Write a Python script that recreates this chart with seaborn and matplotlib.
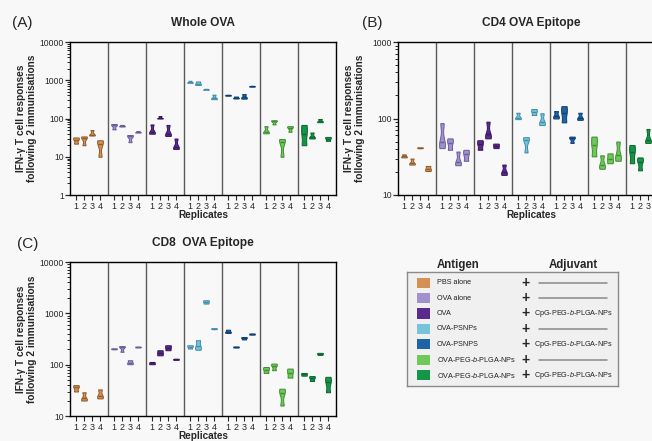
import numpy as np
import pandas as pd
import matplotlib
matplotlib.use("Agg")
import matplotlib.pyplot as plt
import matplotlib.ticker as mticker
from matplotlib.patches import Rectangle
import seaborn as sns

sns.set_style("ticks")
plt.rcParams["font.family"] = ["Liberation Sans", "DejaVu Sans"]
plt.rcParams["mathtext.fontset"] = "custom"
plt.rcParams["mathtext.it"] = "Liberation Sans:italic"
plt.rcParams["mathtext.rm"] = "Liberation Sans"

# ── data ─────────────────────────────────────────────────────────────────────
GROUPS = ["PBS alone", "OVA alone", "OVA", "OVA-PSNPs", "OVA-PSNPS",
          "OVA-PEG-$\\it{b}$-PLGA-NPs", "OVA-PEG-$\\it{b}$-PLGA-NPs"]
ADJUVANT = [None, None, "CpG-PEG-$\\it{b}$-PLGA-NPs", None,
            "CpG-PEG-$\\it{b}$-PLGA-NPs", None, "CpG-PEG-$\\it{b}$-PLGA-NPs"]
FILLS = ["#D59155", "#A091CD", "#5A2A8C", "#78C3DC", "#1E64A5", "#6EC85A", "#149646"]
EDGES = ["#8E5A2C", "#6A5C99", "#3A1560", "#3F8CA8", "#0E3F70", "#3E8E2E", "#0B6630"]
REPLICATES = ["1", "2", "3", "4"]

# triplicate wells per replicate (4 replicates per group, 7 groups)
whole_ova = [
    [[22, 28, 32], [20, 31, 34], [36, 38, 50], [10, 22, 27]],
    [[52, 66, 72], [62, 64, 68], [24, 34, 37], [43, 44, 47]],
    [[40, 44, 70], [100, 102, 116], [35, 40, 68], [16, 18, 30]],
    [[860, 880, 970], [750, 820, 930], [565, 575, 590], [320, 340, 420]],
    [[395, 405, 415], [335, 350, 375], [330, 360, 435], [680, 695, 710]],
    [[41, 45, 63], [70, 85, 90], [10, 25, 29], [45, 58, 63]],
    [[20, 40, 68], [30, 33, 43], [80, 85, 97], [26, 30, 33]],
]
cd4_epitope = [
    [[31, 32, 34], [25, 26, 30], [41, 41.5, 42], [20.6, 22, 24]],
    [[41, 50, 87], [39, 48, 55], [24.5, 27, 37], [28, 34, 39]],
    [[39, 46, 52], [55, 62, 91], [41, 44, 47], [18.3, 20, 25]],
    [[98, 103, 119], [36, 52, 57], [111, 123, 133], [82, 90, 117]],
    [[100, 108, 125], [89, 118, 145], [48, 55, 58], [96, 102, 119]],
    [[32, 45, 58], [22, 25, 33], [26, 30, 35], [28, 33, 50]],
    [[26, 36, 45], [21, 27, 31], [48, 52, 73], [40, 50, 60]],
]
cd8_epitope = [
    [[30, 36, 40], [20, 22, 29], [], [22, 25, 33]],
    [[200, 204, 208], [178, 220, 230], [102, 110, 122], [217, 221, 225]],
    [[102, 107, 113], [152, 170, 191], [191, 215, 239], [124, 127, 130]],
    [[206, 225, 239], [195, 230, 300], [1550, 1680, 1800], [495, 505, 515]],
    [[415, 440, 480], [216, 221, 226], [310, 330, 345], [385, 395, 405]],
    [[69, 80, 90], [78, 95, 105], [16, 28, 34], [56, 70, 84]],
    [[61, 65, 69], [48, 55, 60], [155, 163, 170], [29, 45, 58]],
]

BG = "#f8f8f8"
GROUP_W = 4.75
W, H = 652, 441


def box(left, top, width, height):
    return [left / W, 1 - (top + height) / H, width / W, height / H]


def draw_panel(ax, data, ylim, title):
    ax.set_facecolor(BG)
    for g, reps in enumerate(data):
        rows = [(g * GROUP_W + r, v) for r, vals in enumerate(reps) for v in vals]
        sub = pd.DataFrame(rows, columns=["pos", "value"])
        sns.violinplot(data=sub, x="pos", y="value", native_scale=True,
                       log_scale=(False, True), ax=ax, color=FILLS[g],
                       linecolor=EDGES[g], linewidth=0.7, saturation=1,
                       width=0.72, cut=0, bw_adjust=0.6, density_norm="width",
                       inner=None)
        med = sub.groupby("pos")["value"].median()
        ax.hlines(med.values, med.index - 0.3, med.index + 0.3,
                  color=EDGES[g], lw=1.0, zorder=5)

    for g in range(1, 7):
        ax.axvline(g * GROUP_W - 0.75, color="#5a5a5a", lw=1.0, zorder=1)

    ax.set_yscale("log")
    ax.set_ylim(*ylim)
    ax.set_xlim(-0.75, 7 * GROUP_W - 0.75)
    ax.set_xticks([g * GROUP_W + r for g in range(7) for r in range(4)])
    ax.set_xticklabels(REPLICATES * 7)
    ax.yaxis.set_major_locator(mticker.LogLocator(base=10))
    ax.yaxis.set_minor_locator(mticker.LogLocator(base=10, subs=np.arange(2, 10)))
    ax.yaxis.set_major_formatter(mticker.FuncFormatter(lambda v, _: f"{v:g}"))
    ax.yaxis.set_minor_formatter(mticker.NullFormatter())
    ax.tick_params(axis="x", labelsize=6.5, length=3.5, width=0.8, pad=1.5)
    ax.tick_params(axis="y", which="major", labelsize=6.2, length=3.5, width=0.9, pad=1)
    ax.tick_params(axis="y", which="minor", length=2, width=0.7)
    for s in ax.spines.values():
        s.set_color("black")
        s.set_linewidth(1.0)

    ax.set_xlabel("Replicates", fontsize=7.2, fontweight="bold")
    ax.xaxis.set_label_coords(0.5, -0.1)
    ax.set_ylabel("IFN-γ T cell responses\nfollowing 2 immunisations",
                  fontsize=7.3, fontweight="bold", linespacing=1.1)
    ax.yaxis.set_label_coords(-0.125, 0.5)

    pos = ax.get_position()
    fig.text(pos.x0 + pos.width / 2, pos.y1 + 19 / H, title, ha="center",
             va="center", fontsize=8.6, fontweight="bold")
    return ax


fig = plt.figure(figsize=(6.52, 4.41), dpi=100, facecolor=BG)

axA = fig.add_axes(box(70, 42, 266, 153))
draw_panel(axA, whole_ova, (1, 10000), "Whole OVA")
axB = fig.add_axes(box(398, 42, 266, 153))
draw_panel(axB, cd4_epitope, (10, 1000), "CD4 OVA Epitope")
axC = fig.add_axes(box(70, 262, 266, 154))
draw_panel(axC, cd8_epitope, (10, 10000), "CD8  OVA Epitope")

# the last replicate of panel B falls outside the canvas, as in the original
axB.get_xticklabels()[-1].set_visible(False)

for tag, x, y in [("(A)", 12, 23), ("(B)", 362, 23), ("(C)", 17, 244)]:
    fig.text(x / W, 1 - y / H, tag, ha="left", va="center", fontsize=11)

# ── legend panel ─────────────────────────────────────────────────────────────
lax = fig.add_axes(box(407, 272, 211, 114))
lax.set_facecolor("#f0f0f0")
lax.set_xlim(0, 1)
lax.set_ylim(0, 1)
lax.set_xticks([])
lax.set_yticks([])
for s in lax.spines.values():
    s.set_color("#8a8a8a")
    s.set_linewidth(1.0)

for i, (name, adj) in enumerate(zip(GROUPS, ADJUVANT)):
    yc = 1 - (10.7 + i * 15.4) / 114
    lax.add_patch(Rectangle((0.047, yc - 0.044), 0.062, 0.088,
                            facecolor=FILLS[i], edgecolor="none"))
    lax.text(0.142, yc, name, fontsize=5.2, va="center", ha="left", color="#222")
    lax.text(0.56, yc, "+", fontsize=10, fontweight="bold", va="center", ha="center")
    if adj is None:
        lax.plot([0.626, 0.948], [yc, yc], color="#8a8a8a", lw=1.1)
    else:
        lax.text(0.60, yc, adj, fontsize=5.2, va="center", ha="left", color="#222")

fig.text(458 / W, 1 - 265 / H, "Antigen", ha="center", va="center",
         fontsize=8.3, fontweight="bold")
fig.text(573 / W, 1 - 265 / H, "Adjuvant", ha="center", va="center",
         fontsize=8.3, fontweight="bold")

fig.savefig("out.png", dpi=100, facecolor=BG)
